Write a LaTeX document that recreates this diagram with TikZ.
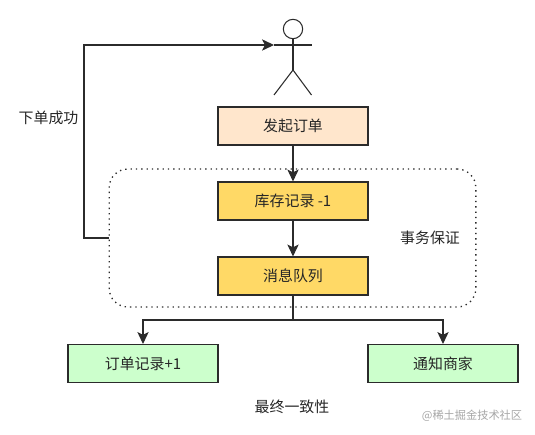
\documentclass[tikz,border=0pt]{standalone}
\usepackage{fontspec}
\setmainfont{Noto Sans CJK SC}
\usetikzlibrary{arrows.meta}
\definecolor{peach}{HTML}{FFE6CC}
\definecolor{gold}{HTML}{FFD966}
\definecolor{mint}{HTML}{CCFFCC}
\definecolor{edge}{HTML}{2B2B2B}
\begin{document}
\begin{tikzpicture}[
    x=0.75pt, y=-0.75pt, font=\fontsize{11.2pt}{13pt}\selectfont, text=black!85,
    task/.style={draw=edge, line width=0.8pt, rectangle, minimum width=112.5pt,
                 minimum height=28.5pt, text centered, align=center, inner sep=0pt},
    flow/.style={draw=edge, line width=0.8pt, -{Stealth[length=9pt, width=8.5pt, inset=2.2pt]}},
    limb/.style={draw=edge, line width=0.8pt},
    label/.style={inner sep=0pt, align=center}]
    \useasboundingbox (0,0) rectangle (535,435);
    \node[draw=edge, line width=1pt, dash pattern=on 1pt off 3pt, rounded corners=14pt,
          minimum width=275pt, minimum height=103.5pt] (txn) at (292.5, 238) {};
    \node[task, fill=peach] (start) at (293, 126)   {发起订单};
    \node[task, fill=gold]  (stock) at (293, 201)   {库存记录 -1};
    \node[task, fill=gold]  (mq)    at (293, 276)   {消息队列};
    \node[task, fill=mint]  (order) at (143, 363.5) {订单记录+1};
    \node[task, fill=mint]  (shop)  at (443, 363.5) {通知商家};
    \node[label] (success) at (48.5, 118) {下单成功};
    \node[label] (assure)  at (430, 238)  {事务保证};
    \node[label] (final)   at (292, 407)  {最终一致性};
    \node[label, font=\fontsize{8.4pt}{10pt}\selectfont, text=black!35] (mark) at (472, 416) {@稀土掘金技术社区};
    % stick figure
    \node[draw=edge, line width=0.8pt, circle, minimum size=14.5pt, inner sep=0pt] (head) at (293, 29) {};
    \coordinate (armL) at (274, 45);
    \coordinate (armR) at (311.5, 45);
    \coordinate (hip)  at (293, 70);
    \coordinate (legL) at (274, 95);
    \coordinate (legR) at (311.5, 95);
    \coordinate (fork) at (293, 320);
    \draw[limb] (head.south) -- (hip);
    \draw[limb] (armL) -- (armR);
    \draw[limb] (legL) -- (hip) -- (legR);
    \draw[flow] (txn.west) -- (84, 238) |- (armL);
    \draw[flow] (start) -- (stock);
    \draw[flow] (stock) -- (mq);
    \draw[limb] (mq) -- (fork);
    \draw[flow] (fork) -| (order.north);
    \draw[flow] (fork) -| (shop.north);
\end{tikzpicture}
\end{document}
